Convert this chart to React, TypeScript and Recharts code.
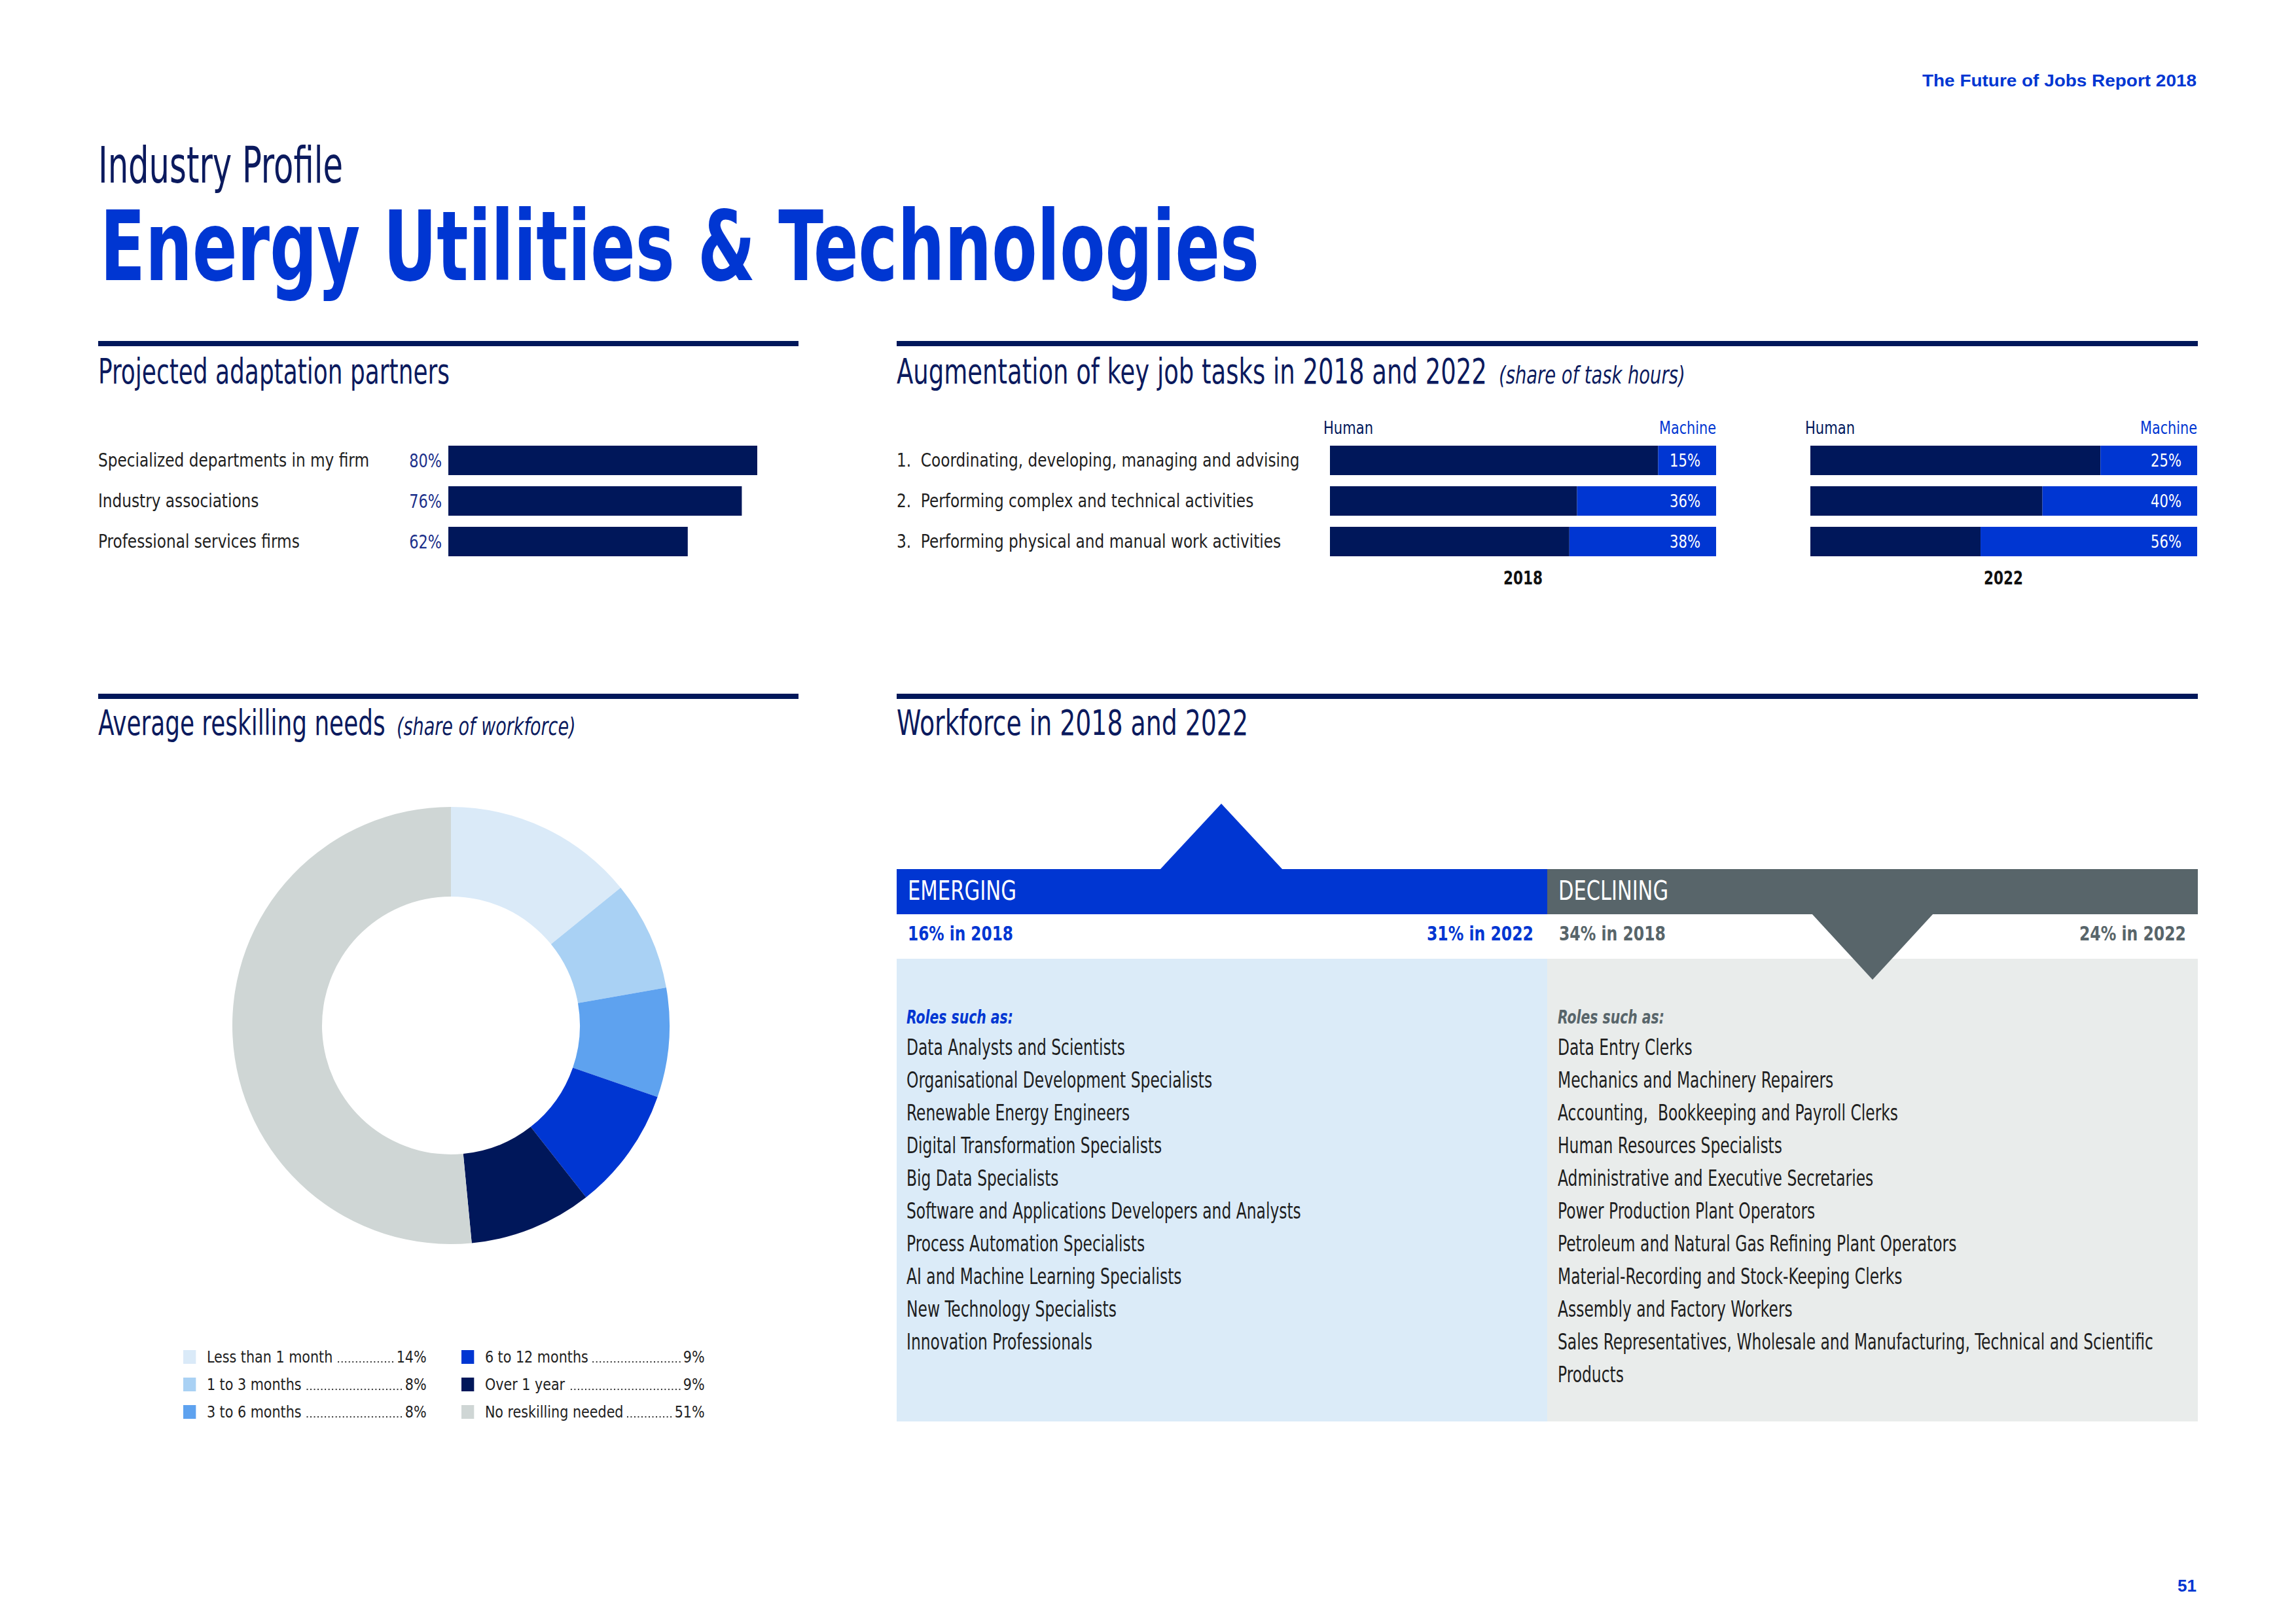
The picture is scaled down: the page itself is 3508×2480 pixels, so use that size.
import React from "react";
import { BarChart, Bar, XAxis, YAxis, LabelList, PieChart, Pie, Cell } from "recharts";

// ---- data ----
const partnerNames = [
  "Specialized departments in my firm",
  "Industry associations",
  "Professional services firms",
];
const partnerShares = [80, 76, 62];

const taskNames = [
  "1.\u00a0 Coordinating, developing, managing and advising",
  "2.\u00a0 Performing complex and technical activities",
  "3.\u00a0 Performing physical and manual work activities",
];
const human2018 = [85, 64, 62];
const machine2018 = [15, 36, 38];
const human2022 = [75, 60, 44];
const machine2022 = [25, 40, 56];

const reskillLabels = [
  "Less than 1 month",
  "1 to 3 months",
  "3 to 6 months",
  "6 to 12 months",
  "Over 1 year",
  "No reskilling needed",
];
const reskillShares = [14, 8, 8, 9, 9, 51];
const reskillColors = ["#DAEAF8", "#A9D1F4", "#5EA2EF", "#0036D2", "#00175A", "#CFD6D5"];

const workforceYears = ["2018", "2022"];
const emergingShares = [16, 31];
const decliningShares = [34, 24];

const emergingRoles = [
  "Data Analysts and Scientists",
  "Organisational Development Specialists",
  "Renewable Energy Engineers",
  "Digital Transformation Specialists",
  "Big Data Specialists",
  "Software and Applications Developers and Analysts",
  "Process Automation Specialists",
  "AI and Machine Learning Specialists",
  "New Technology Specialists",
  "Innovation Professionals",
];
const decliningRoles = [
  "Data Entry Clerks",
  "Mechanics and Machinery Repairers",
  "Accounting,\u00a0 Bookkeeping and Payroll Clerks",
  "Human Resources Specialists",
  "Administrative and Executive Secretaries",
  "Power Production Plant Operators",
  "Petroleum and Natural Gas Refining Plant Operators",
  "Material-Recording and Stock-Keeping Clerks",
  "Assembly and Factory Workers",
  "Sales Representatives, Wholesale and Manufacturing, Technical and Scientific Products",
];

// ---- styles ----
const COND = '"Liberation Sans Narrow", "DejaVu Sans Condensed", "Roboto Condensed", "Liberation Sans", Arial, sans-serif';
const SANS = '"Liberation Sans", Arial, Helvetica, sans-serif';
const NAVY = "#00175A";
const BLUE = "#0036D2";
const HEAD = "#0B1A5E";
const TEXT = "#1E1E1E";
const GRAY = "#58656A";
const PCT = "#1B2F8A";

const partnerData = partnerNames.map((name, i) => ({ name, share: partnerShares[i] }));
const aug2018 = taskNames.map((task, i) => ({ task, human: human2018[i], machine: machine2018[i] }));
const aug2022 = taskNames.map((task, i) => ({ task, human: human2022[i], machine: machine2022[i] }));
const reskillData = reskillLabels.map((label, i) => ({ label, share: reskillShares[i] }));

// text squeezed to the width it has on the page
function T(props: any) {
  const { x, y, w, anchor = "start", size, weight, fill, family = COND, italic, children } = props;
  return (
    <text
      x={x}
      y={y}
      textAnchor={anchor}
      fontSize={size}
      fontWeight={weight}
      fill={fill}
      fontFamily={family}
      fontStyle={italic ? "italic" : undefined}
      textLength={w}
      lengthAdjust="spacingAndGlyphs"
    >
      {children}
    </text>
  );
}

// text squeezed by a horizontal scale
function S(props: any) {
  const { x, y, sx, size, fill, italic, children } = props;
  return (
    <text
      transform={`translate(${x},${y}) scale(${sx},1)`}
      fontSize={size}
      fill={fill}
      fontFamily={COND}
      fontStyle={italic ? "italic" : undefined}
    >
      {children}
    </text>
  );
}

const LeftTick = (props: any) => (
  <text
    transform={`translate(0,${props.y}) scale(0.89,1)`}
    dy="0.36em"
    textAnchor="start"
    fontFamily={COND}
    fontSize={29}
    fill={TEXT}
  >
    {props.payload.value}
  </text>
);

const box = (p: any) => {
  const v = p.viewBox || {};
  return {
    x: p.x ?? v.x,
    y: p.y ?? v.y,
    width: p.width ?? v.width,
    height: p.height ?? v.height,
  };
};

const PctLeft = (p: any) => {
  const b = box(p);
  return (
    <text
      transform={`translate(${b.x - 10},${b.y + b.height / 2}) scale(0.86,1)`}
      dy="0.36em"
      textAnchor="end"
      fontFamily={COND}
      fontSize={29}
      fill={PCT}
    >
      {`${p.value}%`}
    </text>
  );
};

const PctInside = (p: any) => {
  const b = box(p);
  return (
    <text
      transform={`translate(${b.x + b.width - 24},${b.y + b.height / 2}) scale(0.87,1)`}
      dy="0.36em"
      textAnchor="end"
      fontFamily={COND}
      fontSize={27}
      fill="#FFFFFF"
    >
      {`${p.value}%`}
    </text>
  );
};

function AugChart({ data, withLabels, width }: { data: any[]; withLabels: boolean; width: number }) {
  return (
    <BarChart width={width} height={186} data={data} layout="vertical" margin={{ top: 0, right: 0, bottom: 0, left: 0 }}>
      <XAxis type="number" domain={[0, 100]} hide />
      <YAxis
        type="category"
        dataKey="task"
        hide={!withLabels}
        width={withLabels ? width - 590 : 0}
        axisLine={false}
        tickLine={false}
        interval={0}
        tick={(p: any) => <LeftTick {...p} />}
      />
      <Bar dataKey="human" stackId="a" fill={NAVY} barSize={45} isAnimationActive={false} />
      <Bar dataKey="machine" stackId="a" fill={BLUE} barSize={45} isAnimationActive={false}>
        <LabelList dataKey="machine" content={(p: any) => <PctInside {...p} />} />
      </Bar>
    </BarChart>
  );
}

function Legend() {
  const cols = [reskillData.slice(0, 3), reskillData.slice(3)];
  return (
    <>
      {cols.map((col, c) => (
        <div
          key={c}
          style={{
            position: "absolute",
            left: c === 0 ? 280 : 705,
            top: 2052,
            width: 404,
            transform: "scaleX(0.92)",
            transformOrigin: "left top",
          }}
        >
          {col.map((d, i) => {
            const idx = c * 3 + i;
            return (
              <div key={d.label} style={{ display: "flex", alignItems: "center", height: 42, fontFamily: COND, fontSize: 25, color: TEXT }}>
                <span style={{ width: 21, height: 21, background: reskillColors[idx], marginRight: 18, flex: "none" }} />
                <span style={{ whiteSpace: "nowrap", marginRight: 6 }}>{d.label}</span>
                <span
                  style={{
                    flex: 1,
                    height: 4,
                    position: "relative",
                    top: 8,
                    marginRight: 3,
                    backgroundImage: "radial-gradient(circle, #333 1.2px, transparent 1.6px)",
                    backgroundSize: "6px 4px",
                    backgroundRepeat: "repeat-x",
                    backgroundPosition: "right center",
                  }}
                />
                <span>{d.share}%</span>
              </div>
            );
          })}
        </div>
      ))}
    </>
  );
}

function RoleList({ title, roles, left, color }: { title: string; roles: string[]; left: number; color: string }) {
  return (
    <div
      style={{
        position: "absolute",
        left,
        top: 1533,
        width: 1257,
        fontFamily: COND,
        transform: "scaleX(0.765)",
        transformOrigin: "left top",
      }}
    >
      <div style={{ fontStyle: "italic", fontSize: 29, color, lineHeight: "42px", fontWeight: 700, transform: "scaleX(1.02)", transformOrigin: "left top" }}>
        {title}
      </div>
      {roles.map((r) => (
        <div key={r} style={{ fontSize: 34, lineHeight: "50px", color: TEXT }}>{r}</div>
      ))}
    </div>
  );
}

export default function App() {
  return (
    <div style={{ position: "absolute", left: 0, top: 0, width: 3508, height: 2480, background: "#FFFFFF", overflow: "hidden" }}>
      <svg width={3508} height={2480} style={{ position: "absolute", left: 0, top: 0 }}>
        {/* page header */}
        <T x={3356} y={132} w={419} anchor="end" family={SANS} weight={700} size={26} fill={BLUE}>
          The Future of Jobs Report 2018
        </T>
        <T x={150} y={279} w={374} size={76} fill={HEAD}>Industry Profile</T>
        <T x={153} y={428} w={1771} size={148} weight={700} fill={BLUE}>
          Energy Utilities &amp; Technologies
        </T>

        {/* section rules */}
        <rect x={150} y={521} width={1070} height={8} fill={NAVY} />
        <rect x={1370} y={521} width={1988} height={8} fill={NAVY} />
        <rect x={150} y={1060} width={1070} height={8} fill={NAVY} />
        <rect x={1370} y={1060} width={1988} height={8} fill={NAVY} />

        {/* section headings */}
        <T x={150} y={586} w={537} size={53} fill={HEAD}>Projected adaptation partners</T>
        <S x={1370} y={586} sx={0.776} size={53} fill={HEAD}>Augmentation of key job tasks in 2018 and 2022</S>
        <S x={2290} y={586} sx={0.8} size={38} italic fill={HEAD}>(share of task hours)</S>
        <S x={150} y={1123} sx={0.752} size={53} fill={HEAD}>Average reskilling needs</S>
        <S x={606} y={1123} sx={0.79} size={38} italic fill={HEAD}>(share of workforce)</S>
        <T x={1370} y={1123} w={537} size={53} fill={HEAD}>Workforce in 2018 and 2022</T>

        {/* augmentation column headers */}
        <T x={2022} y={663} w={76} size={26} fill={NAVY}>Human</T>
        <T x={2622} y={663} w={87} anchor="end" size={26} fill={BLUE}>Machine</T>
        <T x={2758} y={663} w={76} size={26} fill={NAVY}>Human</T>
        <T x={3357} y={663} w={87} anchor="end" size={26} fill={BLUE}>Machine</T>
        <T x={2327} y={893} w={60} anchor="middle" weight={700} size={29} fill="#111">{workforceYears[0]}</T>
        <T x={3061} y={893} w={60} anchor="middle" weight={700} size={29} fill="#111">{workforceYears[1]}</T>

        {/* workforce panels */}
        <rect x={1370} y={1465} width={994} height={707} fill="#DBEBF8" />
        <rect x={2364} y={1465} width={994} height={707} fill="#E9ECEB" />
        <rect x={1370} y={1328} width={994} height={69} fill={BLUE} />
        <rect x={2364} y={1328} width={994} height={69} fill={GRAY} />
        <polygon points="1772,1329 1866,1228 1960,1329" fill={BLUE} />
        <polygon points="2768,1396 2954,1396 2861,1497" fill={GRAY} />
        <T x={1387} y={1375} w={166} size={41} fill="#FFFFFF">EMERGING</T>
        <T x={2381} y={1375} w={168} size={41} fill="#FFFFFF">DECLINING</T>
        <T x={1387} y={1437} w={161} weight={700} size={31} fill={BLUE}>
          {`${emergingShares[0]}% in ${workforceYears[0]}`}
        </T>
        <T x={2343} y={1437} w={163} anchor="end" weight={700} size={31} fill={BLUE}>
          {`${emergingShares[1]}% in ${workforceYears[1]}`}
        </T>
        <T x={2382} y={1437} w={163} weight={700} size={31} fill={GRAY}>
          {`${decliningShares[0]}% in ${workforceYears[0]}`}
        </T>
        <T x={3340} y={1437} w={163} anchor="end" weight={700} size={31} fill={GRAY}>
          {`${decliningShares[1]}% in ${workforceYears[1]}`}
        </T>

        {/* page number */}
        <text x={3356} y={2432} textAnchor="end" fontFamily={SANS} fontWeight={700} fontSize={26} fill={BLUE}>51</text>
      </svg>

      {/* projected adaptation partners */}
      <div style={{ position: "absolute", left: 150, top: 672 }}>
        <BarChart width={1128} height={186} data={partnerData} layout="vertical" margin={{ top: 0, right: 3, bottom: 0, left: 0 }}>
          <XAxis type="number" domain={[0, 100]} hide />
          <YAxis
            type="category"
            dataKey="name"
            width={535}
            axisLine={false}
            tickLine={false}
            interval={0}
            tick={(p: any) => <LeftTick {...p} />}
          />
          <Bar dataKey="share" fill={NAVY} barSize={45} isAnimationActive={false}>
            <LabelList dataKey="share" content={(p: any) => <PctLeft {...p} />} />
          </Bar>
        </BarChart>
      </div>

      {/* augmentation of key job tasks */}
      <div style={{ position: "absolute", left: 1370, top: 672 }}>
        <AugChart data={aug2018} withLabels width={1252} />
      </div>
      <div style={{ position: "absolute", left: 2766, top: 672 }}>
        <AugChart data={aug2022} withLabels={false} width={591} />
      </div>

      {/* average reskilling needs */}
      <div style={{ position: "absolute", left: 334, top: 1212 }}>
        <PieChart width={700} height={700}>
          <Pie
            data={reskillData}
            dataKey="share"
            nameKey="label"
            cx={350}
            cy={350}
            innerRadius={197}
            outerRadius={334}
            startAngle={90}
            endAngle={-270}
            stroke="none"
            isAnimationActive={false}
          >
            {reskillData.map((d, i) => (
              <Cell key={d.label} fill={reskillColors[i]} />
            ))}
          </Pie>
        </PieChart>
      </div>
      <Legend />

      {/* workforce roles */}
      <RoleList title="Roles such as:" roles={emergingRoles} left={1385} color={BLUE} />
      <RoleList title="Roles such as:" roles={decliningRoles} left={2380} color={GRAY} />
    </div>
  );
}
